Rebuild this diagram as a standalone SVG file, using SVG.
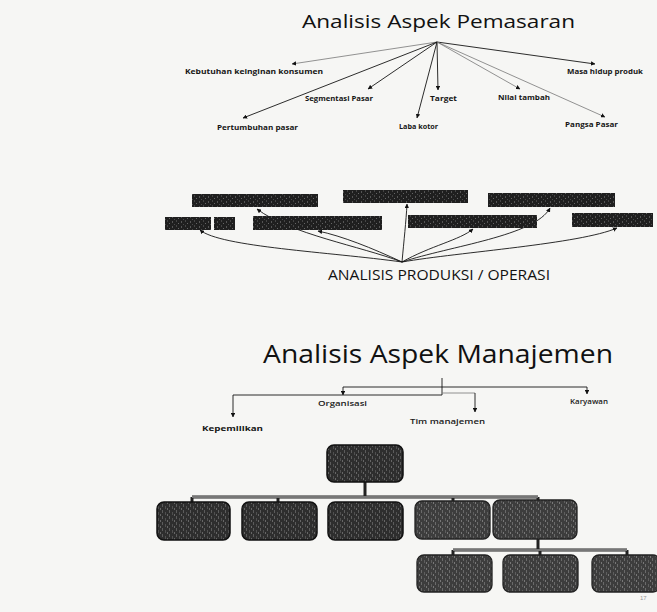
<svg xmlns="http://www.w3.org/2000/svg" width="657" height="612" viewBox="0 0 657 612">
<defs>
<marker id="ah" viewBox="0 0 6 6" refX="5.5" refY="3" markerWidth="4.5" markerHeight="4.5" markerUnits="userSpaceOnUse" orient="auto"><path d="M0,0 L6,3 L0,6 z" fill="#111"/></marker>
<pattern id="noise" width="9" height="5" patternUnits="userSpaceOnUse">
<rect width="9" height="5" fill="#1f1f1f"/>
<rect x="1" y="1" width="1" height="2" fill="#555"/>
<rect x="5" y="0" width="1" height="2" fill="#444"/>
<rect x="7" y="3" width="1" height="1" fill="#666"/>
<rect x="3" y="4" width="1" height="1" fill="#4a4a4a"/>
</pattern>
<pattern id="noise2" width="7" height="6" patternUnits="userSpaceOnUse">
<rect width="7" height="6" fill="#2e2e2e"/>
<rect x="1" y="0" width="1" height="3" fill="#5c5c5c"/>
<rect x="4" y="2" width="1" height="3" fill="#505050"/>
<rect x="6" y="4" width="1" height="2" fill="#666"/>
</pattern>
<pattern id="noise3" width="7" height="6" patternUnits="userSpaceOnUse">
<rect width="7" height="6" fill="#3d3d3d"/>
<rect x="1" y="0" width="1" height="3" fill="#6a6a6a"/>
<rect x="4" y="2" width="1" height="3" fill="#5e5e5e"/>
<rect x="6" y="4" width="1" height="2" fill="#777"/>
</pattern>
</defs>
<style>
.t{font-family:"Open Sans","Liberation Sans",sans-serif;fill:#111}
.lb{font-family:"Open Sans","Liberation Sans",sans-serif;font-size:6.5px;font-weight:700;fill:#151515}
.lm{font-family:"Open Sans","Liberation Sans",sans-serif;font-size:6.5px;font-weight:600;fill:#1a1a1a}
.c{fill:none;stroke:#151515;stroke-width:0.9}
.cf{fill:none;stroke:#777;stroke-width:0.8}
.bar{fill:url(#noise)}
.box{fill:url(#noise2);stroke:#111;stroke-width:1.5}
.box2{fill:url(#noise3);stroke:#222;stroke-width:1.3}
.dl{fill:none;stroke:#222;stroke-width:3}
.dli{fill:none;stroke:#ccc;stroke-width:1}
</style>
<rect width="657" height="612" fill="#f6f6f4"/>

<text class="t" x="302" y="28" font-size="18" textLength="273" lengthAdjust="spacingAndGlyphs">Analisis Aspek Pemasaran</text>
<g id="connectors">
<line class="cf" x1="437" y1="42" x2="292" y2="64" marker-end="url(#ah)"/>
<line class="c" x1="437" y1="42" x2="595" y2="64" marker-end="url(#ah)"/>
<line class="c" x1="437" y1="42" x2="368" y2="89" marker-end="url(#ah)"/>
<line class="c" x1="437" y1="42" x2="438" y2="90" marker-end="url(#ah)"/>
<line class="cf" x1="437" y1="42" x2="520" y2="89" marker-end="url(#ah)"/>
<line class="c" x1="437" y1="42" x2="243" y2="118" marker-end="url(#ah)"/>
<line class="c" x1="437" y1="42" x2="417" y2="118" marker-end="url(#ah)"/>
<line class="cf" x1="437" y1="42" x2="605" y2="117" marker-end="url(#ah)"/>

<path class="c" d="M402,262 C330,252 220,247 200,230" marker-end="url(#ah)"/>
<path class="c" d="M402,262 C372,248 342,236 318,231" marker-end="url(#ah)"/>
<path class="c" d="M402,262 C360,246 290,234 257,209" marker-end="url(#ah)"/>
<path class="c" d="M402,262 C404,240 406,222 407,204" marker-end="url(#ah)"/>
<path class="c" d="M402,262 C430,246 460,240 473,229" marker-end="url(#ah)"/>
<path class="c" d="M402,262 C450,246 535,236 550,208" marker-end="url(#ah)"/>
<path class="c" d="M402,262 C460,252 580,244 617,228" marker-end="url(#ah)"/>

<path class="c" d="M442,378 V395"/>
<path class="c" d="M343,387 H587"/>
<path class="c" d="M343,387 V395" marker-end="url(#ah)"/>
<path class="c" d="M587,387 V394" marker-end="url(#ah)"/>
<path class="c" d="M442,395 H233 V417" marker-end="url(#ah)"/>
<path class="cf" d="M442,393 H475"/>
<path class="c" d="M475,393 V412" marker-end="url(#ah)"/>

<path class="dl" d="M365,482 V497 M192,497 H538 M192,497 V502 M278,497 V502 M453,497 V502 M538,497 V501"/>
<path class="dli" d="M192,497 H538"/>
<path class="dl" d="M538,539 V550 M453,550 H627 M453,550 V555 M540,550 V555 M627,550 V555"/>
<path class="dli" d="M453,550 H627"/>
</g>

<g id="n-kebutuhan"><text class="lb" x="185" y="74" textLength="138" lengthAdjust="spacingAndGlyphs">Kebutuhan keinginan konsumen</text></g>
<g id="n-masa"><text class="lb" x="567" y="74" textLength="76" lengthAdjust="spacingAndGlyphs">Masa hidup produk</text></g>
<g id="n-segmentasi"><text class="lb" x="305" y="101" textLength="68" lengthAdjust="spacingAndGlyphs">Segmentasi Pasar</text></g>
<g id="n-target"><text class="lb" x="430" y="101" textLength="27" lengthAdjust="spacingAndGlyphs">Target</text></g>
<g id="n-nilai"><text class="lb" x="498" y="100" textLength="52" lengthAdjust="spacingAndGlyphs">Nilai tambah</text></g>
<g id="n-pertumbuhan"><text class="lb" x="217" y="130" textLength="81" lengthAdjust="spacingAndGlyphs">Pertumbuhan pasar</text></g>
<g id="n-laba"><text class="lb" x="399" y="129" textLength="39" lengthAdjust="spacingAndGlyphs">Laba kotor</text></g>
<g id="n-pangsa"><text class="lb" x="565" y="127" textLength="53" lengthAdjust="spacingAndGlyphs">Pangsa Pasar</text></g>

<g id="n-barA"><rect class="bar" x="192" y="194" width="126" height="13"/></g>
<g id="n-barB"><rect class="bar" x="343" y="190" width="125" height="13"/></g>
<g id="n-barC"><rect class="bar" x="488" y="193" width="127" height="14"/></g>
<g id="n-barD"><rect class="bar" x="165" y="217" width="46" height="13"/><rect class="bar" x="214" y="217" width="21" height="13"/></g>
<g id="n-barE"><rect class="bar" x="253" y="216" width="129" height="14"/></g>
<g id="n-barF"><rect class="bar" x="408" y="215" width="129" height="13"/></g>
<g id="n-barG"><rect class="bar" x="572" y="213" width="81" height="14"/></g>
<g id="n-produksi"><text class="t" x="328" y="280" font-size="15" textLength="222" lengthAdjust="spacingAndGlyphs">ANALISIS PRODUKSI / OPERASI</text></g>

<g id="n-manajemen"><text class="t" x="263" y="363" font-size="25" textLength="350" lengthAdjust="spacingAndGlyphs">Analisis Aspek Manajemen</text></g>
<g id="n-organisasi"><text class="lm" x="318" y="406" textLength="49" lengthAdjust="spacingAndGlyphs">Organisasi</text></g>
<g id="n-kepemilikan"><text class="lb" x="202" y="431" textLength="61" lengthAdjust="spacingAndGlyphs">Kepemilikan</text></g>
<g id="n-tim"><text class="lm" x="410" y="424" textLength="75" lengthAdjust="spacingAndGlyphs">Tim manajemen</text></g>
<g id="n-karyawan"><text class="lm" x="570" y="404" textLength="38" lengthAdjust="spacingAndGlyphs">Karyawan</text></g>

<g id="n-top"><rect class="box" x="327" y="445" width="76" height="37" rx="7"/></g>
<g id="n-b1"><rect class="box" x="157" y="502" width="73" height="38" rx="7"/></g>
<g id="n-b2"><rect class="box" x="242" y="502" width="75" height="38" rx="7"/></g>
<g id="n-b3"><rect class="box" x="328" y="502" width="75" height="38" rx="7"/></g>
<g id="n-b4"><rect class="box2" x="415" y="501" width="75" height="38" rx="7"/></g>
<g id="n-b5"><rect class="box2" x="493" y="500" width="84" height="39" rx="7"/></g>
<g id="n-b6"><rect class="box2" x="417" y="555" width="75" height="37" rx="7"/></g>
<g id="n-b7"><rect class="box2" x="503" y="555" width="75" height="37" rx="7"/></g>
<g id="n-b8"><rect class="box2" x="592" y="555" width="68" height="37" rx="7"/></g>
<text x="640" y="600" font-family="Liberation Sans, sans-serif" font-size="6" fill="#999">17</text>
</svg>
